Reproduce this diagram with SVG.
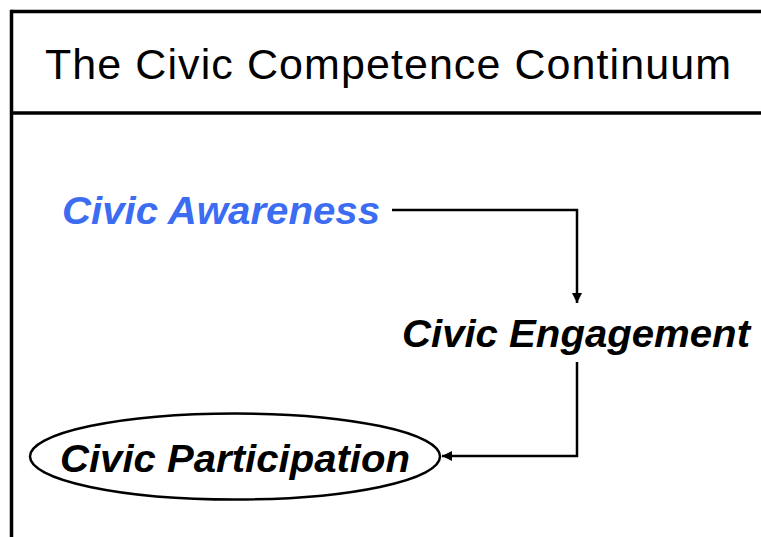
<svg xmlns="http://www.w3.org/2000/svg" width="761" height="537" viewBox="0 0 761 537">
  <style>
    .frame { stroke: #000; stroke-width: 3.5; fill: none; }
    .link { stroke: #000; stroke-width: 2.5; fill: none; }
    .title { font-family: "Liberation Sans", Arial, sans-serif; font-size: 43px; fill: #000; }
    .stage { font-family: "Liberation Sans", Arial, sans-serif; font-size: 39px; font-weight: bold; font-style: italic; fill: #000; }
    .first { fill: #3c6cf2; }
  </style>
  <defs>
    <marker id="head" viewBox="0 0 10 10" refX="10" refY="5" markerWidth="10" markerHeight="10" markerUnits="userSpaceOnUse" orient="auto">
      <path d="M0,0 L10,5 L0,10 Z" fill="#000"/>
    </marker>
  </defs>

  <rect width="761" height="537" fill="#fff"/>

  <!-- header frame -->
  <g id="frame">
    <line class="frame" x1="11.5" y1="11.5" x2="761" y2="11.5"/>
    <line class="frame" x1="11.5" y1="9.75" x2="11.5" y2="537"/>
    <line class="frame" x1="11.5" y1="113" x2="761" y2="113"/>
  </g>

  <g id="title">
    <text class="title" x="45" y="79" textLength="686">The Civic Competence Continuum</text>
  </g>

  <!-- connectors -->
  <g id="connectors">
    <polyline class="link" points="392,210 577,210 577,303" marker-end="url(#head)"/>
    <polyline class="link" points="577,362 577,456 442,456" marker-end="url(#head)"/>
  </g>

  <g id="awareness">
    <text class="stage first" x="62" y="224" textLength="318" lengthAdjust="spacingAndGlyphs">Civic Awareness</text>
  </g>

  <g id="engagement">
    <text class="stage" x="402" y="347" textLength="348" lengthAdjust="spacingAndGlyphs">Civic Engagement</text>
  </g>

  <g id="participation">
    <ellipse class="link" cx="235" cy="456.5" rx="205" ry="43"/>
    <text class="stage" x="60" y="472" textLength="350" lengthAdjust="spacingAndGlyphs">Civic Participation</text>
  </g>
</svg>
